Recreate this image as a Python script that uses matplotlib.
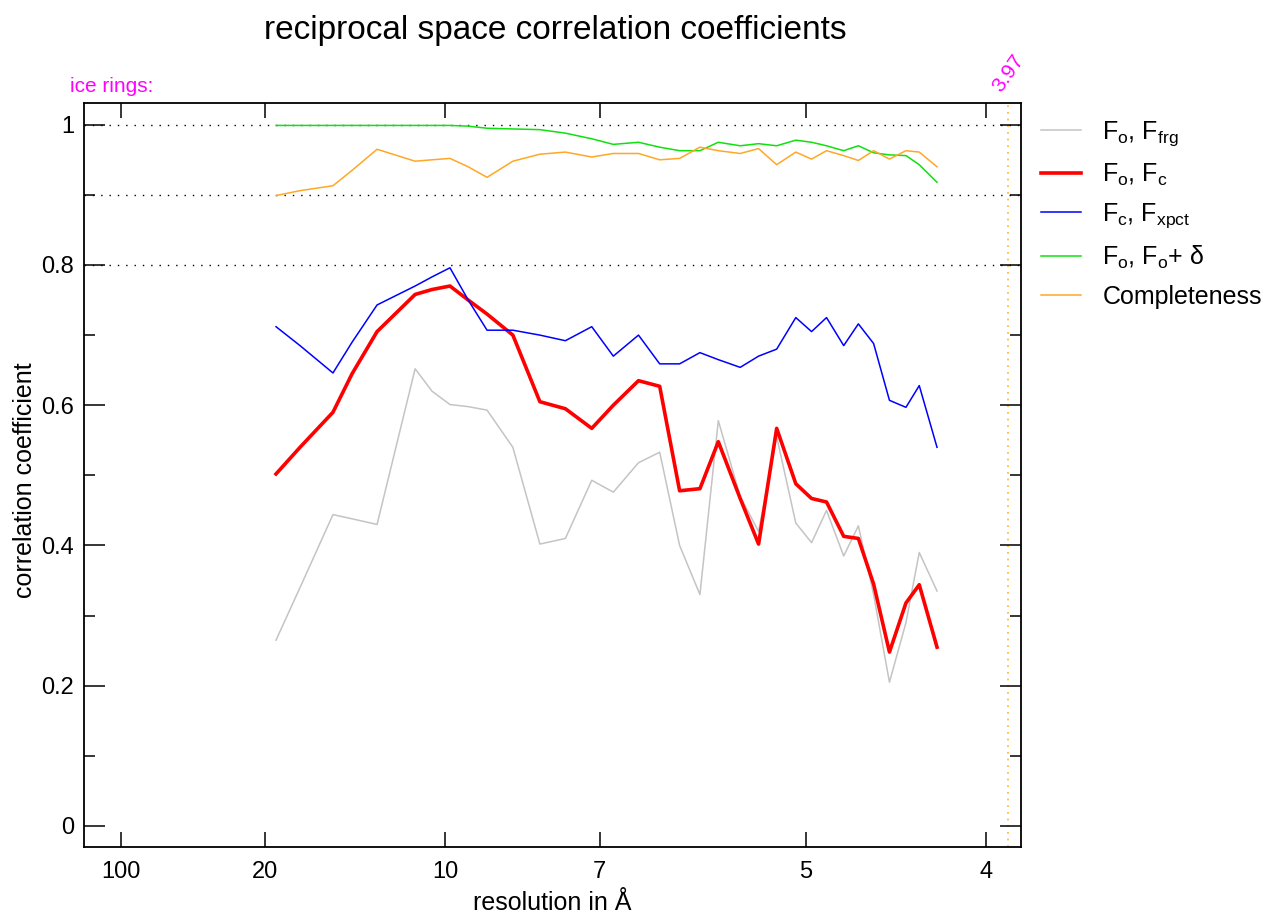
import matplotlib.pyplot as plt
import matplotlib.transforms as mtransforms
import numpy as np

plt.rcParams['font.family'] = ['Liberation Sans', 'DejaVu Sans']
plt.rcParams['mathtext.fontset'] = 'custom'
plt.rcParams['mathtext.rm'] = 'Liberation Sans'
plt.rcParams['mathtext.it'] = 'Liberation Sans'
plt.rcParams['mathtext.default'] = 'regular'

# resolution of each bin (Angstrom)
resolution = [18.84, 16.74, 14.52, 13.48, 12.33, 10.91, 10.38, 9.87, 9.40, 8.96,
              8.42, 7.92, 7.50, 7.11, 6.82, 6.51, 6.27, 6.06, 5.86, 5.69,
              5.50, 5.35, 5.21, 5.07, 4.96, 4.86, 4.75, 4.66, 4.57, 4.48,
              4.39, 4.32, 4.23]

cc_fo_ffrg = [0.265, 0.340, 0.444, 0.438, 0.430, 0.652, 0.620, 0.601, 0.598, 0.593,
              0.540, 0.402, 0.410, 0.493, 0.476, 0.518, 0.533, 0.400, 0.330, 0.578,
              0.470, 0.420, 0.555, 0.432, 0.404, 0.450, 0.385, 0.428, 0.330, 0.205,
              0.290, 0.390, 0.335]

cc_fo_fc = [0.502, 0.540, 0.590, 0.645, 0.705, 0.758, 0.765, 0.770, 0.750, 0.730,
            0.700, 0.605, 0.595, 0.567, 0.600, 0.635, 0.627, 0.478, 0.481, 0.548,
            0.467, 0.402, 0.567, 0.488, 0.467, 0.462, 0.413, 0.410, 0.345, 0.248,
            0.318, 0.344, 0.255]

cc_fc_fxpct = [0.712, 0.685, 0.646, 0.690, 0.743, 0.770, 0.783, 0.796, 0.750, 0.707,
               0.707, 0.700, 0.692, 0.712, 0.670, 0.700, 0.659, 0.659, 0.675, 0.665,
               0.654, 0.670, 0.680, 0.725, 0.705, 0.725, 0.685, 0.716, 0.688, 0.607,
               0.597, 0.628, 0.540]

cc_fo_fodelta = [0.999, 0.999, 0.999, 0.999, 0.999, 0.999, 0.999, 0.999, 0.998, 0.995,
                 0.994, 0.993, 0.988, 0.980, 0.972, 0.975, 0.968, 0.963, 0.963, 0.975,
                 0.970, 0.973, 0.970, 0.978, 0.975, 0.970, 0.963, 0.970, 0.960, 0.957,
                 0.956, 0.943, 0.918]

completeness = [0.899, 0.906, 0.913, 0.935, 0.965, 0.948, 0.950, 0.952, 0.940, 0.925,
                0.948, 0.958, 0.961, 0.954, 0.959, 0.959, 0.950, 0.952, 0.968, 0.963,
                0.959, 0.966, 0.943, 0.961, 0.951, 0.963, 0.956, 0.949, 0.963, 0.951,
                0.963, 0.961, 0.940]

tick_res = [100, 20, 10, 7, 5, 4]
ice_ring_label = '3.97'
ice_ring_d = 3.905   # where the marker line sits in the picture

W, H = 1268, 917
fig = plt.figure(figsize=(W / 100, H / 100), dpi=100)
ax = fig.add_axes([84 / W, 1 - 847 / H, (1021 - 84) / W, (847 - 103) / H])

s = 1.0 / np.array(resolution)

for yv in [0.8, 0.9, 1.0]:
    ax.axhline(yv, color='black', lw=1.0, ls=(0, (1, 5)), zorder=1)

ax.plot(s, cc_fo_ffrg, color='#c4c4c4', lw=1.1, label=r'F$_o$, F$_{frg}$')
ax.plot(s, cc_fo_fc, color='#ff0000', lw=2.6, label=r'F$_o$, F$_c$')
ax.plot(s, cc_fc_fxpct, color='#0000ff', lw=1.1, label=r'F$_c$, F$_{xpct}$')
ax.plot(s, cc_fo_fodelta, color='#10e010', lw=1.1, label=r'F$_o$, F$_o$+ δ')
ax.plot(s, completeness, color='#ffa726', lw=1.1, label='Completeness')

ax.axvline(1.0 / ice_ring_d, color='#ffb030', lw=1.2, ls=(0, (1, 3)), zorder=1)

ax.set_xlim(-0.00018, 0.2597)
ax.set_ylim(-0.030, 1.031)

ax.set_xticks([1.0 / r for r in tick_res])
ax.set_xticklabels([str(r) for r in tick_res])
ax.set_yticks([0, 0.2, 0.4, 0.6, 0.8, 1.0])
ax.set_yticklabels(['0', '0.2', '0.4', '0.6', '0.8', '1'])
ax.set_yticks([0.1, 0.3, 0.5, 0.7, 0.9], minor=True)

ax.tick_params(axis='x', which='major', direction='in', top=True, length=11,
               width=1.1, labelsize=17, pad=10)
ax.tick_params(axis='y', which='major', direction='in', right=True, length=15,
               width=1.1, labelsize=17, pad=7)
ax.tick_params(axis='y', which='minor', direction='in', right=True, length=8,
               width=1.1)
for sp in ax.spines.values():
    sp.set_linewidth(1.3)

fig.text(555 / W, 1 - 30 / H, 'reciprocal space correlation coefficients',
         ha='center', va='center', fontsize=24)
fig.text(552 / W, 1 - 903 / H, 'resolution in Å', ha='center', va='center',
         fontsize=18)
fig.text(25 / W, 1 - 480 / H, 'correlation coefficient', ha='center',
         va='center', rotation=90, fontsize=18)

fig.text(70 / W, 1 - 87 / H, 'ice rings:', color='#ff00ff', fontsize=15,
         ha='left', va='center')
trans = mtransforms.blended_transform_factory(ax.transData, ax.transAxes)
ax.text(1.0 / ice_ring_d, 1.011, ice_ring_label, transform=trans,
        color='#ff00ff', fontsize=15, rotation=55, ha='center', va='bottom')

ax.legend(loc='upper left', bbox_to_anchor=(1041 / W, 1 - 119 / H),
          bbox_transform=fig.transFigure, frameon=False, fontsize=18,
          handlelength=1.6, handletextpad=0.85, labelspacing=0.55,
          borderpad=0, borderaxespad=0)

fig.savefig('out.png', dpi=100)
